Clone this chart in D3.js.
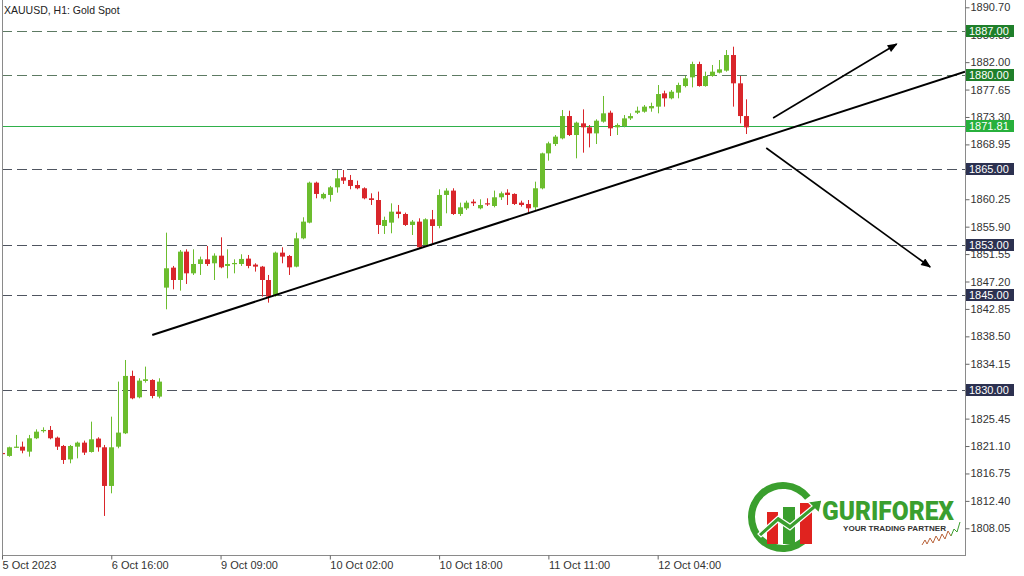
<!DOCTYPE html>
<html><head><meta charset="utf-8">
<script src="https://cdn.jsdelivr.net/npm/d3@7"></script>
<style>body{margin:0;background:#fff}svg{display:block}text{font-family:"Liberation Sans",Arial,sans-serif}</style>
</head><body><svg id="c" width="1024" height="576"></svg>
<script>
// ---- data (hourly XAUUSD candles, index 0 = 5 Oct 23:00) ----
const opens=[1820.0,1819.53,1820.90,1821.0,1820.21,1822.33,1823.49,1823.65,1822.43,1821.11,1818.98,1821.0,1821.64,1820.16,1822.28,1820.90,1814.77,1821.0,1823.12,1832.22,1828.83,1831.42,1831.58,1828.94,
1846.23,1849.40,1847.44,1851.94,1848.5,1849.98,1850.72,1850.09,1851.3,1849.67,1850.04,1849.98,1850.83,1849.88,1849.56,1847.44,1844.91,1851.78,1851.25,1849.56,1854.05,1856.54,1862.88,1860.4,1860.93,1862.14,
1863.73,1863.31,1862.51,1861.99,1860.40,1860.13,1856.01,1856.54,1858.28,1857.91,1856.17,1856.7,1853.0,1857.07,1856.01,1860.93,1861.62,1857.91,1858.81,1859.87,1858.81,1859.61,1859.18,1860.56,1861.3,1861.09,
1859.71,1859.5,1858.97,1861.98,1867.53,1869.01,1869.91,1873.45,1870.44,1872.29,1871.66,1870.70,1872.56,1873.98,1871.66,1871.87,1873.08,1873.98,1874.14,1874.67,1874.94,1877.05,1876.26,1877.16,1878.21,1879.59,
1881.70,1878.21,1879.80,1880.33,1880.65,1883.13,1878.64,1873.45];
const highs=[1820.1,1821.0,1822.86,1821.8,1822.86,1823.75,1824.07,1824.28,1822.6,1821.27,1821.27,1821.8,1821.96,1824.97,1822.49,1821.27,1825.76,1831.32,1834.75,1833.06,1831.85,1833.7,1831.69,1831.85,
1854.95,1849.67,1852.2,1852.31,1852.31,1851.15,1852.84,1851.67,1854.21,1852.31,1850.72,1851.52,1851.41,1850.09,1849.67,1848.24,1851.94,1852.63,1851.41,1854.95,1857.39,1863.04,1863.04,1861.3,1862.36,1864.89,
1864.89,1864.10,1863.2,1862.14,1861.19,1861.46,1857.49,1859.6,1859.34,1858.13,1856.96,1857.23,1857.23,1858.55,1861.83,1861.99,1861.99,1859.71,1860.03,1860.24,1860.24,1860.4,1861.62,1861.46,1861.83,1861.19,
1860.03,1860.13,1863.04,1867.64,1869.38,1870.44,1874.41,1874.3,1872.56,1874.51,1872.03,1872.93,1876.63,1874.3,1872.29,1873.61,1873.88,1874.94,1875.2,1875.57,1878.37,1877.47,1877.58,1878.74,1879.8,1882.07,
1882.07,1880.49,1881.55,1882.34,1883.92,1884.45,1879.80,1876.10];
const lows=[1819.7,1819.4,1820.8,1819.95,1819.42,1822.2,1823.23,1822.17,1820.48,1818.26,1818.36,1819.15,1819.68,1820.06,1820.21,1810.01,1813.6,1820.74,1823.0,1828.52,1828.67,1831.16,1828.67,1828.67,
1842.79,1845.96,1845.75,1846.81,1848.24,1848.24,1849.67,1847.44,1849.3,1847.71,1848.5,1849.67,1849.3,1848.77,1844.8,1843.85,1844.8,1850.09,1848.24,1849.45,1853.9,1856.43,1860.4,1860.24,1859.87,1861.3,
1862.67,1861.83,1861.83,1860.24,1859.34,1854.74,1854.74,1854.85,1857.23,1856.01,1854.58,1852.47,1852.84,1853.26,1855.64,1858.02,1857.76,1857.6,1858.55,1859.18,1858.65,1859.18,1858.97,1860.13,1859.34,1859.34,
1859.08,1858.13,1858.55,1861.82,1866.37,1868.7,1869.75,1870.28,1866.74,1867.64,1868.48,1869.01,1872.4,1870.28,1870.44,1871.66,1872.82,1873.77,1873.98,1874.14,1873.88,1874.94,1876.1,1876.26,1878.0,1878.0,
1878.11,1878.11,1879.69,1880.22,1880.49,1874.94,1872.29,1870.6];
const closes=[1819.85,1820.90,1821.0,1820.37,1822.33,1823.38,1823.65,1822.33,1821.0,1818.89,1821.11,1821.64,1820.06,1822.17,1820.9,1814.77,1820.90,1823.23,1832.22,1828.67,1831.48,1831.69,1829.04,1831.32,
1849.3,1847.44,1851.94,1848.5,1849.98,1850.72,1849.98,1851.3,1849.45,1849.98,1850.14,1850.78,1849.67,1849.56,1847.44,1844.8,1851.78,1851.15,1849.45,1854.05,1856.7,1862.88,1861.09,1861.09,1862.14,1863.57,
1863.2,1862.36,1861.99,1860.40,1860.13,1856.17,1856.96,1858.28,1857.91,1856.17,1856.7,1852.63,1857.07,1856.01,1860.93,1861.62,1857.91,1858.97,1859.71,1859.61,1859.34,1859.45,1860.56,1861.19,1860.93,1859.5,
1859.34,1858.81,1861.99,1867.53,1869.12,1870.18,1873.45,1870.44,1872.4,1871.66,1870.70,1872.71,1873.88,1871.5,1872.03,1873.08,1873.45,1874.3,1874.94,1875.04,1876.94,1876.26,1877.31,1878.37,1879.43,1881.70,
1878.21,1879.8,1880.49,1880.86,1883.13,1878.64,1873.45,1871.66];

const yTickValues=[1890.70,1886.35,1882.00,1877.65,1873.30,1868.95,1864.60,1860.25,1855.90,1851.55,1847.20,1842.85,1838.50,1834.15,1829.80,1825.45,1821.10,1816.75,1812.40,1808.05];
const yTickHidden=[1864.60,1829.80]; // fully covered by level labels in the original
const xTickIndex=[0,16,32,48,64,80,96];
const xTickLabels=["5 Oct 2023","6 Oct 16:00","9 Oct 09:00","10 Oct 02:00","10 Oct 18:00","11 Oct 11:00","12 Oct 04:00"];
const levelValues=[1887.00,1880.00,1871.81,1865.00,1853.00,1845.00,1830.00];
const levelKinds=["res","res","cur","sup","sup","sup","sup"];
const trendLine=[{i:22.0,p:1838.72},{i:141.0,p:1880.48}];
const arrowUp=[{i:112.9,p:1873.14},{i:131.0,p:1884.88}];
const arrowDown=[{i:111.9,p:1868.38},{i:135.9,p:1849.50}];
const title="XAUUSD, H1:  Gold Spot";

// ---- layout ----
const svg=d3.select("#c");
const W=1024,H=576, plotL=2, plotR=965, plotB=555;
const x=d3.scaleLinear().domain([0,141]).range([2,965]);
const y=d3.scaleLinear().domain([1808.05,1890.70]).range([528.3,7.3]);
const BULL="#6cbd2e", BEAR="#d9262b";

svg.append("rect").attr("width",W).attr("height",H).attr("fill","#fff");

const defs=svg.append("defs");
defs.append("clipPath").attr("id","pc").append("rect")
  .attr("x",plotL).attr("y",0).attr("width",plotR-plotL).attr("height",plotB);
defs.append("marker").attr("id","ah").attr("viewBox","0 0 10 8")
  .attr("refX",9).attr("refY",4).attr("markerWidth",11).attr("markerHeight",8)
  .attr("markerUnits","userSpaceOnUse").attr("orient","auto")
  .append("path").attr("d","M0,0 L10,4 L0,8 Z").attr("fill","#000");

const g=svg.append("g").attr("clip-path","url(#pc)");

// level lines
levelValues.forEach((v,k)=>{
  const kind=levelKinds[k];
  g.append("line").attr("x1",plotL).attr("x2",plotR)
   .attr("y1",Math.round(y(v))+0.5).attr("y2",Math.round(y(v))+0.5)
   .attr("stroke",kind==="cur"?"#2fb04a":kind==="res"?"#5d7a63":"#4f5560")
   .attr("stroke-width",1)
   .attr("stroke-dasharray",kind==="cur"?null:"10,5");
});

// candles
const idx=d3.range(opens.length);
g.selectAll("line.wick").data(idx).join("line").attr("class","wick")
  .attr("x1",i=>Math.round(x(i))+0.5).attr("x2",i=>Math.round(x(i))+0.5)
  .attr("y1",i=>y(highs[i])).attr("y2",i=>y(lows[i]))
  .attr("stroke",i=>closes[i]>=opens[i]?BULL:BEAR).attr("stroke-width",1);
g.selectAll("rect.body").data(idx).join("rect").attr("class","body")
  .attr("x",i=>Math.round(x(i))-2).attr("width",5)
  .attr("y",i=>y(Math.max(opens[i],closes[i])))
  .attr("height",i=>Math.max(1.2,Math.abs(y(opens[i])-y(closes[i]))))
  .attr("fill",i=>closes[i]>=opens[i]?BULL:BEAR);

// trend line & arrows
const ln=d3.line().x(d=>x(d.i)).y(d=>y(d.p));
g.append("path").attr("d",ln(trendLine)).attr("stroke","#000").attr("stroke-width",2).attr("fill","none");
svg.append("path").attr("d",ln(arrowUp)).attr("stroke","#000").attr("stroke-width",1.6).attr("fill","none").attr("marker-end","url(#ah)");
svg.append("path").attr("d",ln(arrowDown)).attr("stroke","#000").attr("stroke-width",1.6).attr("fill","none").attr("marker-end","url(#ah)");

// frame
svg.append("line").attr("x1",plotL+0.5).attr("x2",plotL+0.5).attr("y1",0).attr("y2",plotB).attr("stroke","#8a8a8a");
svg.append("line").attr("x1",plotR+0.5).attr("x2",plotR+0.5).attr("y1",0).attr("y2",plotB).attr("stroke","#8a8a8a");
svg.append("line").attr("x1",plotL).attr("x2",plotR+1).attr("y1",plotB+0.5).attr("y2",plotB+0.5).attr("stroke","#8a8a8a");

// right axis
const ay=svg.append("g").attr("transform",`translate(${plotR+0.5},0)`)
  .call(d3.axisRight(y).tickValues(yTickValues).tickSize(4).tickPadding(1)
    .tickFormat(d=>yTickHidden.includes(d)?"":d3.format(".2f")(d)));
ay.select(".domain").remove();
ay.selectAll(".tick line").attr("stroke","#666");
ay.selectAll(".tick text").attr("fill","#333").style("font-size","11px").style("font-family","Liberation Sans, Arial, sans-serif");

// bottom axis
const ax=svg.append("g").attr("transform",`translate(0,${plotB+0.5})`)
  .call(d3.axisBottom(x).tickValues(xTickIndex).tickSize(4).tickPadding(2).tickFormat((d,k)=>xTickLabels[k]));
ax.select(".domain").remove();
ax.selectAll(".tick line").attr("stroke","#666");
ax.selectAll(".tick text").attr("text-anchor","start").attr("dx","0").attr("fill","#333")
  .style("font-size","11px").style("font-family","Liberation Sans, Arial, sans-serif");

// level labels
levelValues.forEach((v,k)=>{
  const kind=levelKinds[k], yy=Math.round(y(v));
  svg.append("rect").attr("x",966).attr("y",yy-6).attr("width",48).attr("height",12)
    .attr("fill",kind==="cur"?"#27b03c":kind==="res"?"#1f7f2a":"#2c3150");
  svg.append("text").attr("x",969).attr("y",yy+4).attr("fill","#fff")
    .style("font-size","11px").text(v.toFixed(2));
});

// title
svg.append("text").attr("x",4).attr("y",14).attr("fill","#222").style("font-size","10.5px").text(title);

// logo
const lg=svg.append("g");
const GRN="#3a9f2e", RED="#e0231f";
lg.append("path").attr("transform","translate(783,517)")
  .attr("d",d3.arc().innerRadius(28).outerRadius(35).startAngle(130*Math.PI/180).endAngle(412*Math.PI/180)())
  .attr("fill",GRN);
lg.append("rect").attr("x",767).attr("y",512).attr("width",11).attr("height",32).attr("fill",RED);
lg.append("rect").attr("x",783).attr("y",507).attr("width",12).attr("height",37).attr("fill",GRN);
lg.append("rect").attr("x",800).attr("y",503).attr("width",12).attr("height",41).attr("fill",RED);
lg.append("path").attr("d","M758,534 L778,516 L790,524 L812,506 L808,502 L822,500 L819,513 L815,509 L790,530 L778,522 L761,537 Z")
  .attr("fill",GRN).attr("stroke","#fff").attr("stroke-width",1.2);
lg.append("text").attr("x",822).attr("y",520).attr("fill",GRN)
  .attr("textLength",132).attr("lengthAdjust","spacingAndGlyphs")
  .style("font-family","Roboto, Liberation Sans, sans-serif").style("font-weight","900").style("font-size","26px").text("GURIFOREX");
lg.append("text").attr("x",843).attr("y",531).attr("fill","#333")
  .attr("textLength",103).attr("lengthAdjust","spacingAndGlyphs")
  .style("font-weight","bold").style("font-size","7px").text("YOUR TRADING PARTNER");
lg.append("path").attr("d","M922,545 L925,540 L927,544 L930,538 L933,543 L936,536 L939,541 L942,534 L945,539 L948,531 L951,536")
  .attr("fill","none").attr("stroke","#b9633a").attr("stroke-width",1);
lg.append("path").attr("d","M951,536 L954,529 L957,532 L960,522").attr("fill","none").attr("stroke",GRN).attr("stroke-width",1);
</script></body></html>
